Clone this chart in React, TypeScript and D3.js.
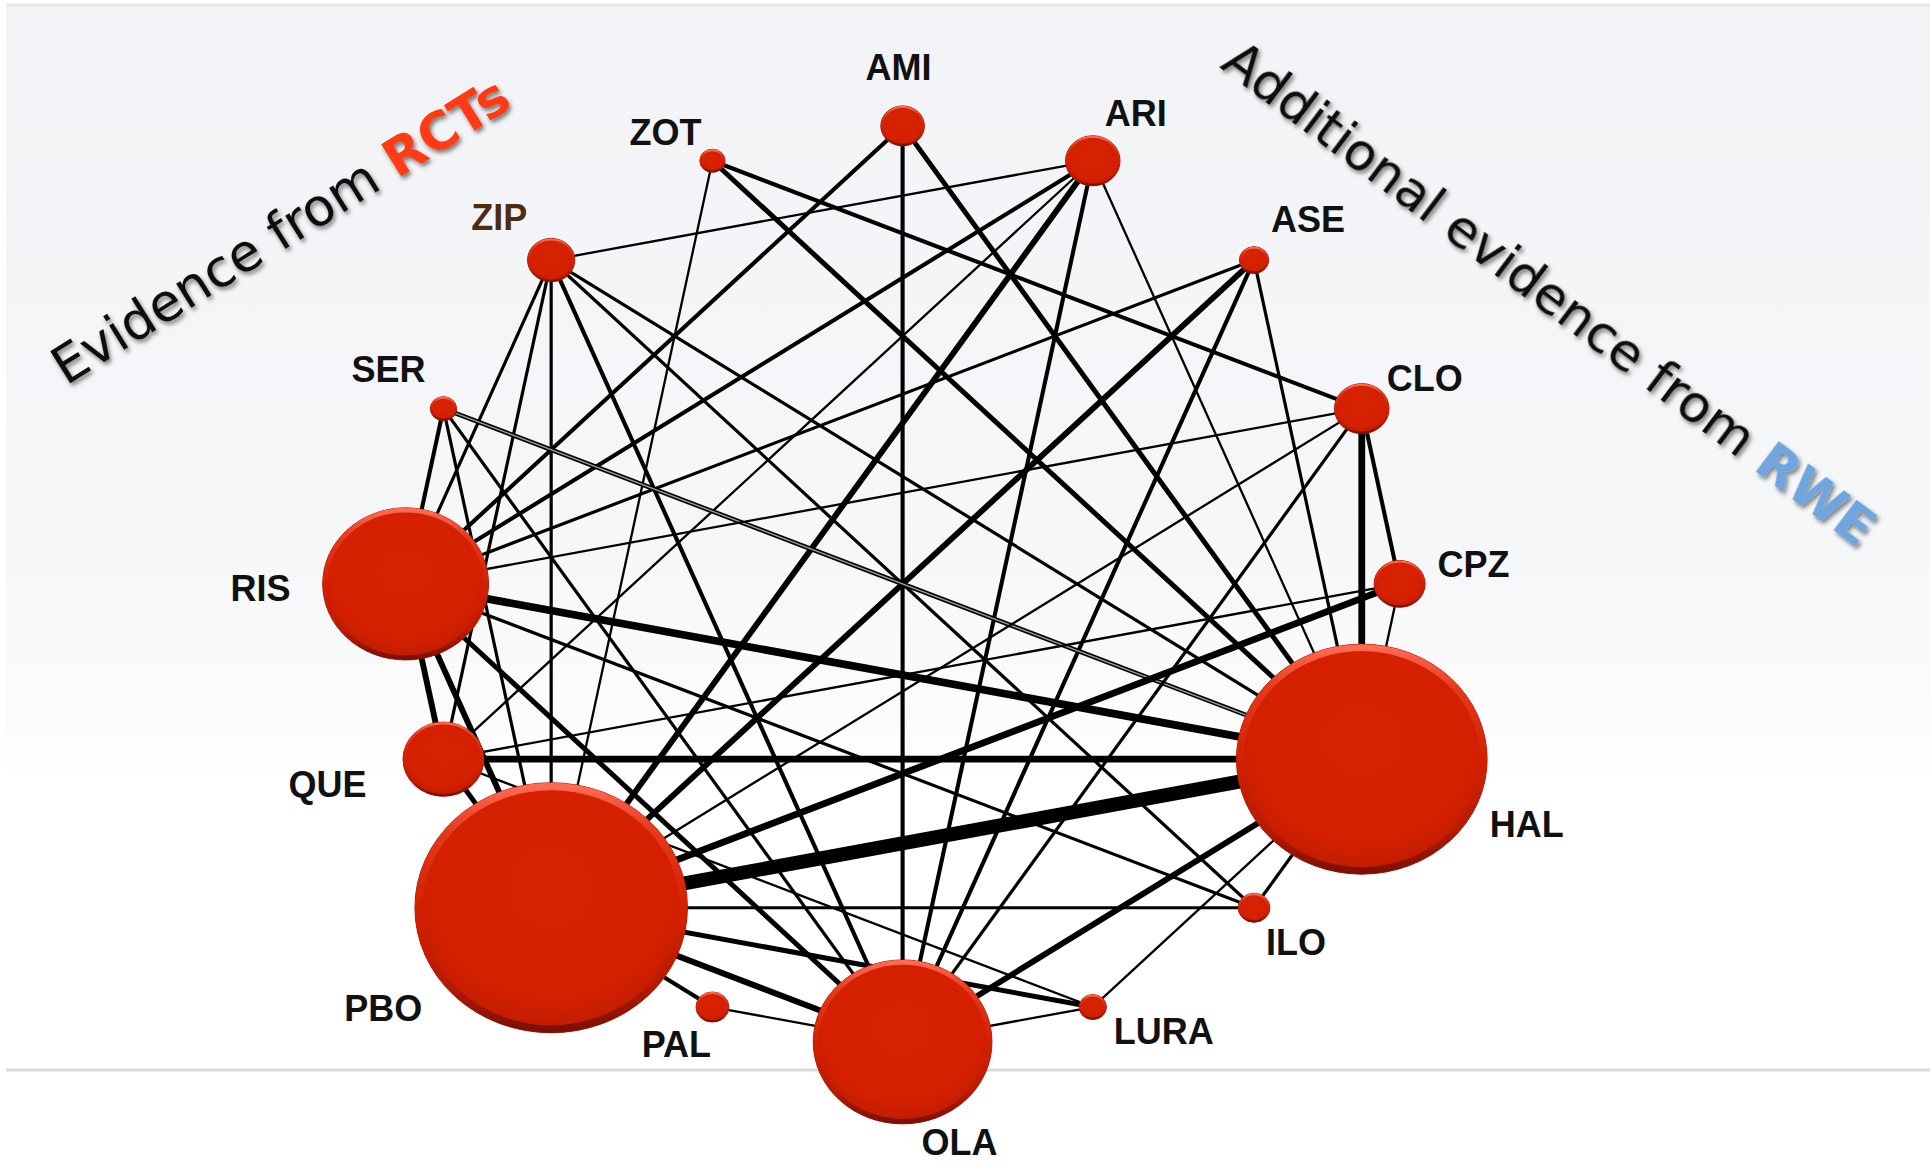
import React from "react";
import * as d3 from "d3";

// Treatments, in the order they sit clockwise around the network (starting at the top)
const treatments = [
  "AMI", "ARI", "ASE", "CLO", "CPZ", "HAL", "ILO", "LURA",
  "OLA", "PAL", "PBO", "QUE", "RIS", "SER", "ZIP", "ZOT",
];

// Relative amount of randomised participants per treatment (node area)
const participants = [
  255, 400, 115, 400, 350, 8460, 135, 100,
  4300, 145, 10000, 880, 3700, 92, 300, 85,
];

// Direct comparisons: endpoints and number of studies (edge width)
const edgeFrom = [
  "AMI", "AMI", "AMI",
  "ZOT", "ZOT", "ZOT",
  "ARI", "ARI", "ARI", "ARI", "ARI", "ARI",
  "ZIP", "ZIP", "ZIP", "ZIP", "ZIP", "ZIP",
  "ASE", "ASE", "ASE", "ASE",
  "SER", "SER", "SER", "SER",
  "CLO", "CLO", "CLO", "CLO", "CLO",
  "CPZ", "CPZ", "CPZ",
  "RIS", "RIS", "RIS", "RIS", "RIS",
  "QUE", "QUE", "QUE",
  "HAL", "HAL", "HAL", "HAL",
  "PBO", "PBO", "PBO", "PBO",
  "OLA", "OLA",
];
const edgeTo = [
  "RIS", "OLA", "HAL",
  "CLO", "HAL", "PBO",
  "ZIP", "RIS", "QUE", "PBO", "OLA", "HAL",
  "RIS", "QUE", "PBO", "OLA", "HAL", "ILO",
  "RIS", "PBO", "OLA", "HAL",
  "RIS", "PBO", "OLA", "HAL",
  "RIS", "PBO", "OLA", "HAL", "CPZ",
  "QUE", "PBO", "HAL",
  "HAL", "PBO", "QUE", "OLA", "ILO",
  "HAL", "PBO", "LURA",
  "PBO", "OLA", "LURA", "ILO",
  "OLA", "LURA", "PAL", "ILO",
  "LURA", "PAL",
];
const edgeStudies = [
  3, 3, 4,
  3, 4, 1,
  1, 3, 1, 5, 3, 1,
  2, 2, 2, 3, 2, 2,
  2, 5, 3, 2,
  3, 2, 2, 3,
  1, 1, 2, 6, 3,
  1, 6, 1,
  7, 5, 5, 4, 2,
  6, 4, 1,
  14, 5, 1, 2,
  5, 4, 3, 2,
  1, 1,
];

// Comparisons that combine RCT and real-world evidence are outlined
const mixedEvidence = ["SER-HAL"];

const W = 1930;
const H = 1164;

// circular layout (slightly wider than tall)
const layout = { cx: 902.6, cy: 583.9, rx: 497, ry: 458, aspect: 1.09 };

// label placement relative to each node centre (centre x, baseline y)
const labelOffset: Record<string, [number, number]> = {
  AMI: [-4, -46], ARI: [43, -35], ASE: [54, -28], CLO: [63, -18],
  CPZ: [74, -7], HAL: [165, 78], ILO: [42, 47], LURA: [71, 37],
  OLA: [57, 113], PAL: [-36, 50], PBO: [-168, 113], QUE: [-116, 38],
  RIS: [-145, 17], SER: [-55, -27], ZIP: [-52, -30], ZOT: [-47, -16],
};
const labelColor: Record<string, string> = { ZIP: "#4d2c10" };

export default function App() {
  const angle = d3
    .scaleLinear()
    .domain([0, treatments.length])
    .range([-Math.PI / 2, (3 * Math.PI) / 2]);
  const size = d3
    .scaleSqrt()
    .domain([0, d3.max(participants) as number])
    .range([0, 125]);
  const width = d3.scaleLinear().domain([1, 14]).range([2.3, 14]);

  const nodes = treatments.map((name, i) => {
    const a = angle(i);
    const ry = size(participants[i]);
    return {
      name,
      x: layout.cx + layout.rx * Math.cos(a),
      y: layout.cy + layout.ry * Math.sin(a),
      ry,
      rx: ry * layout.aspect,
    };
  });
  const byName = new Map(nodes.map((n) => [n.name, n]));

  const edges = edgeFrom.map((f, i) => {
    const a = byName.get(f)!;
    const b = byName.get(edgeTo[i])!;
    return {
      key: `${f}-${edgeTo[i]}`,
      a,
      b,
      w: width(edgeStudies[i]),
      mixed: mixedEvidence.includes(`${f}-${edgeTo[i]}`),
    };
  });

  const line = d3.line<{ x: number; y: number }>().x((d) => d.x).y((d) => d.y);

  return (
    <svg
      width={W}
      height={H}
      viewBox={`0 0 ${W} ${H}`}
      style={{ display: "block", position: "absolute", left: 0, top: 0 }}
    >
      <defs>
        <linearGradient id="bg" x1="0" y1="0" x2="0" y2="1">
          <stop offset="0" stopColor="#f1f3f6" />
          <stop offset="0.7" stopColor="#f6f7f9" />
          <stop offset="0.92" stopColor="#fcfcfd" />
          <stop offset="1" stopColor="#ffffff" />
        </linearGradient>
        <radialGradient id="ballFill" cx="0.5" cy="0.42" r="0.55">
          <stop offset="0" stopColor="#d92400" />
          <stop offset="0.8" stopColor="#d42000" />
          <stop offset="1" stopColor="#c41c00" />
        </radialGradient>
        <linearGradient id="rim" x1="0" y1="0" x2="0" y2="1">
          <stop offset="0" stopColor="#ff6a52" />
          <stop offset="0.18" stopColor="#e53a1e" />
          <stop offset="0.5" stopColor="#d42000" />
          <stop offset="0.82" stopColor="#b81a04" />
          <stop offset="1" stopColor="#7c1004" />
        </linearGradient>
        <filter id="shadow" x="-10%" y="-30%" width="120%" height="160%">
          <feDropShadow dx="2" dy="3" stdDeviation="2.2" floodColor="#000" floodOpacity="0.5" />
        </filter>
      </defs>

      <rect x={0} y={0} width={W} height={H} fill="#ffffff" />
      <rect x={6} y={6} width={W - 6} height={780} fill="url(#bg)" />
      <line x1={6} x2={W} y1={5} y2={5} stroke="#e6e8ec" strokeWidth={3} />
      <line x1={6} x2={W} y1={1070} y2={1070} stroke="#dadada" strokeWidth={3} />

      {/* comparisons */}
      <g>
        {edges.map((e) =>
          e.mixed ? (
            <g key={e.key}>
              <path d={line([e.a, e.b]) as string} stroke="#000" strokeWidth={4.6} fill="none" />
              <path d={line([e.a, e.b]) as string} stroke="#9c9c9c" strokeWidth={1.4} fill="none" />
            </g>
          ) : (
            <path
              key={e.key}
              d={line([e.a, e.b]) as string}
              stroke="#000"
              strokeWidth={e.w}
              fill="none"
            />
          )
        )}
      </g>

      {/* treatments */}
      <g>
        {nodes.map((n) => {
          const rimW = Math.max(2, n.ry * 0.06);
          return (
            <g key={n.name}>
              <ellipse cx={n.x} cy={n.y} rx={n.rx} ry={n.ry} fill="url(#ballFill)" stroke="#a51800" strokeWidth={1} />
              <ellipse
                cx={n.x}
                cy={n.y}
                rx={n.rx - rimW / 2}
                ry={n.ry - rimW / 2}
                fill="none"
                stroke="url(#rim)"
                strokeWidth={rimW}
              />
            </g>
          );
        })}
      </g>

      {/* treatment labels */}
      <g fontFamily="'Liberation Sans', Arial, sans-serif" fontWeight="bold" fontSize={36} textAnchor="middle">
        {nodes.map((n) => (
          <text
            key={n.name}
            x={n.x + labelOffset[n.name][0]}
            y={n.y + labelOffset[n.name][1]}
            fill={labelColor[n.name] ?? "#111"}
          >
            {n.name}
          </text>
        ))}
      </g>

      {/* evidence sources */}
      <g fontFamily="'DejaVu Sans', sans-serif" fontSize={52} filter="url(#shadow)">
        <text transform="translate(66,386) rotate(-32)" fill="#111">
          Evidence from <tspan fontWeight="bold" fill="#ff3a12">RCTs</tspan>
        </text>
        <text transform="translate(1219,67) rotate(37)" fill="#111">
          Additional evidence from <tspan fontWeight="bold" fill="#6fa5dd">RWE</tspan>
        </text>
      </g>
    </svg>
  );
}
